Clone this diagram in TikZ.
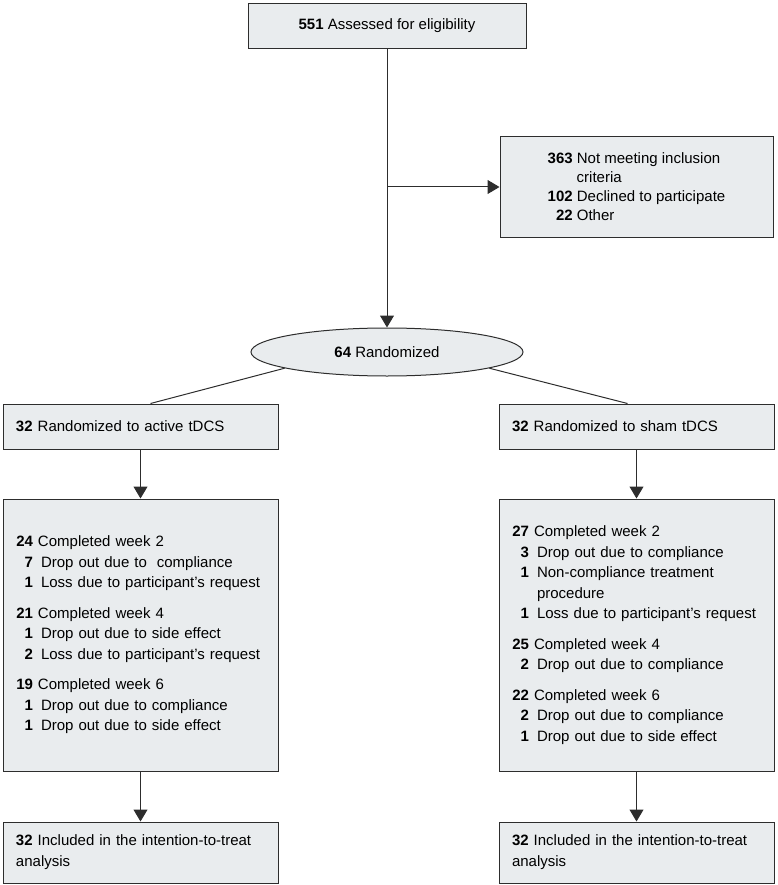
\documentclass[tikz,border=0pt]{standalone}
\usepackage{fontspec}
\setmainfont{Liberation Sans}
\usepackage{xcolor}
\usepackage{tikz}
\usetikzlibrary{arrows.meta, shapes.geometric, positioning, calc}

\definecolor{boxfill}{RGB}{233,236,238}
\definecolor{boxline}{RGB}{45,45,45}

% bold count in a right-aligned column, then the text
\newcommand{\grp}[2]{\makebox[17pt][r]{\textbf{#1}} #2}
\newcommand{\itm}[2]{\makebox[17pt][r]{\textbf{#1}}\hspace{8pt}#2}
\newcommand{\cont}[1]{\hspace*{25pt}#1}

\begin{document}
\begin{tikzpicture}[x=1pt, y=-1pt, >={Triangle[width=14pt,length=12pt]},
    box/.style={draw=boxline, fill=boxfill, line width=1pt, inner sep=0pt,
                font=\fontsize{15}{20.5}\selectfont},
    lbox/.style={box, minimum width=275pt, text width=249pt, align=left},
    link/.style={draw=boxline, line width=1pt}]

    \useasboundingbox (0,0) rectangle (778,885);

    % =================================================================
    % 1. SCREENING
    % =================================================================
    \node[box, minimum width=278pt, minimum height=45pt] (assess) at (387,26)
        {\textbf{551} Assessed for eligibility};

    \node[box, minimum width=273pt, minimum height=100pt, align=left,
          font=\fontsize{15}{19}\selectfont] (excl) at (636.5,187)
        {\makebox[25pt][r]{\textbf{363}} Not meeting inclusion\\
         \hspace*{29pt}criteria\\
         \makebox[25pt][r]{\textbf{102}} Declined to participate\\
         \makebox[25pt][r]{\textbf{22}} Other};

    \node[box, ellipse, minimum width=272pt, minimum height=48pt] (rand) at (387,352)
        {\textbf{64} Randomized};

    % =================================================================
    % 2. ALLOCATION
    % =================================================================
    \node[lbox, minimum height=45pt] (active) at (140.5,426.5)
        {\textbf{32} Randomized to active tDCS};
    \node[lbox, minimum height=45pt] (sham) at (636.5,426.5)
        {\textbf{32} Randomized to sham tDCS};

    % =================================================================
    % 3. FOLLOW-UP
    % =================================================================
    \node[lbox, minimum height=272pt] (actfu) at (140.5,635)
        {\grp{24}{Completed week 2}\\
         \itm{7}{Drop out due to\ \ compliance}\\
         \itm{1}{Loss due to participant's request}\\[10pt]
         \grp{21}{Completed week 4}\\
         \itm{1}{Drop out due to side effect}\\
         \itm{2}{Loss due to participant's request}\\[10pt]
         \grp{19}{Completed week 6}\\
         \itm{1}{Drop out due to compliance}\\
         \itm{1}{Drop out due to side effect}};

    \node[lbox, minimum height=272pt] (shamfu) at (636.5,635)
        {\grp{27}{Completed week 2}\\
         \itm{3}{Drop out due to compliance}\\
         \itm{1}{Non-compliance treatment}\\
         \cont{procedure}\\
         \itm{1}{Loss due to participant's request}\\[10pt]
         \grp{25}{Completed week 4}\\
         \itm{2}{Drop out due to compliance}\\[10pt]
         \grp{22}{Completed week 6}\\
         \itm{2}{Drop out due to compliance}\\
         \itm{1}{Drop out due to side effect}};

    % =================================================================
    % 4. ANALYSIS
    % =================================================================
    \node[lbox, minimum height=61pt, font=\fontsize{15}{21}\selectfont] (actitt) at (140.5,852.5)
        {\textbf{32} Included in the intention-to-treat\\analysis};
    \node[lbox, minimum height=61pt, font=\fontsize{15}{21}\selectfont] (shamitt) at (636.5,852.5)
        {\textbf{32} Included in the intention-to-treat\\analysis};

    % =================================================================
    % 5. CONNECTORS
    % =================================================================
    \coordinate (branch) at (assess.south |- excl.west);
    \draw[link, ->] (assess) -- (rand);
    \draw[link, ->] (branch) -- (excl.west);

    \draw[link] (rand.189) -- ([xshift=10pt]active.north);
    \draw[link] (rand.351) -- ([xshift=-9pt]sham.north);

    \draw[link, ->] (active) -- (actfu);
    \draw[link, ->] (sham) -- (shamfu);
    \draw[link, ->] (actfu) -- (actitt);
    \draw[link, ->] (shamfu) -- (shamitt);

\end{tikzpicture}
\end{document}
